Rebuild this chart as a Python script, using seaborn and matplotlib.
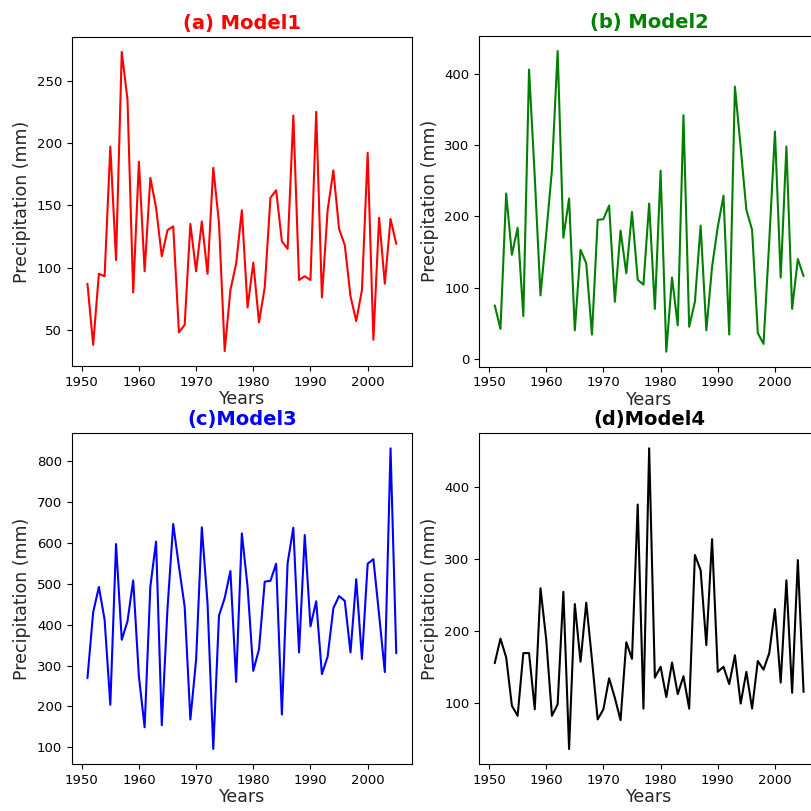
import numpy as np
import pandas as pd
import matplotlib
matplotlib.use("Agg")
import matplotlib.pyplot as plt
import seaborn as sns

# Annual precipitation per model, 1951-2005
years = list(range(1951, 2006))

model1 = [87, 38, 95, 93, 197, 106, 273, 235, 80, 185,
          97, 172, 148, 109, 130, 133, 48, 54, 135, 97,
          137, 95, 180, 136, 33, 82, 103, 146, 68, 104,
          56, 84, 156, 162, 121, 115, 222, 90, 93, 90,
          225, 76, 146, 178, 131, 118, 77, 57, 82, 192,
          42, 140, 87, 139, 119]

model2 = [75, 42, 232, 146, 184, 60, 406, 255, 89, 175,
          265, 432, 170, 225, 40, 153, 134, 34, 195, 196,
          215, 80, 180, 120, 206, 111, 104, 218, 70, 264,
          10, 114, 47, 342, 45, 80, 187, 40, 129, 185,
          229, 34, 382, 297, 209, 181, 36, 21, 165, 319,
          114, 298, 70, 140, 116]

model3 = [269, 430, 492, 412, 204, 597, 363, 408, 508, 273,
          149, 493, 603, 154, 440, 646, 542, 444, 168, 314,
          638, 452, 96, 422, 465, 531, 260, 623, 493, 287,
          340, 505, 507, 549, 180, 550, 637, 332, 619, 396,
          457, 279, 322, 440, 470, 458, 332, 511, 316, 549,
          560, 424, 284, 831, 330]

model4 = [155, 189, 163, 96, 82, 169, 169, 91, 259, 188,
          82, 98, 254, 36, 237, 157, 239, 160, 77, 91,
          134, 107, 76, 184, 161, 375, 92, 453, 135, 150,
          108, 156, 112, 137, 92, 305, 284, 180, 327, 143,
          150, 126, 166, 99, 143, 92, 158, 146, 169, 230,
          128, 270, 114, 298, 115]

titles = ["(a) Model1", "(b) Model2", "(c)Model3", "(d)Model4"]
colors = ["red", "green", "blue", "black"]

df = pd.DataFrame({"year": years, "Model1": model1, "Model2": model2,
                   "Model3": model3, "Model4": model4})

sns.set_style("ticks")
plt.rcParams['font.family'] = ['DejaVu Sans']

fig = plt.figure(figsize=(8.12, 8.11), dpi=100)

# axes boxes in pixels (right column runs past the edge, as in the source)
W, H = 812, 811
boxes = [
    (72, 37, 411.7, 366),
    (479.3, 36, 819, 366.7),
    (72, 433.3, 411.7, 764),
    (479.3, 433.3, 819, 764),
]

for i, col in enumerate(["Model1", "Model2", "Model3", "Model4"]):
    x0, y0, x1, y1 = boxes[i]
    ax = fig.add_axes([x0 / W, 1 - y1 / H, (x1 - x0) / W, (y1 - y0) / H])
    sns.lineplot(data=df, x="year", y=col, color=colors[i], linewidth=1.5, ax=ax)
    ax.set_title(titles[i], color=colors[i], fontweight="bold", fontsize=14)
    ax.set_xlabel("Years", fontsize=12.5, labelpad=1)
    ax.set_ylabel("Precipitation (mm)", fontsize=12.5)
    ax.tick_params(labelsize=9.5, colors="black")
    for s in ax.spines.values():
        s.set_color("black")

fig.savefig("out.png", dpi=100)
